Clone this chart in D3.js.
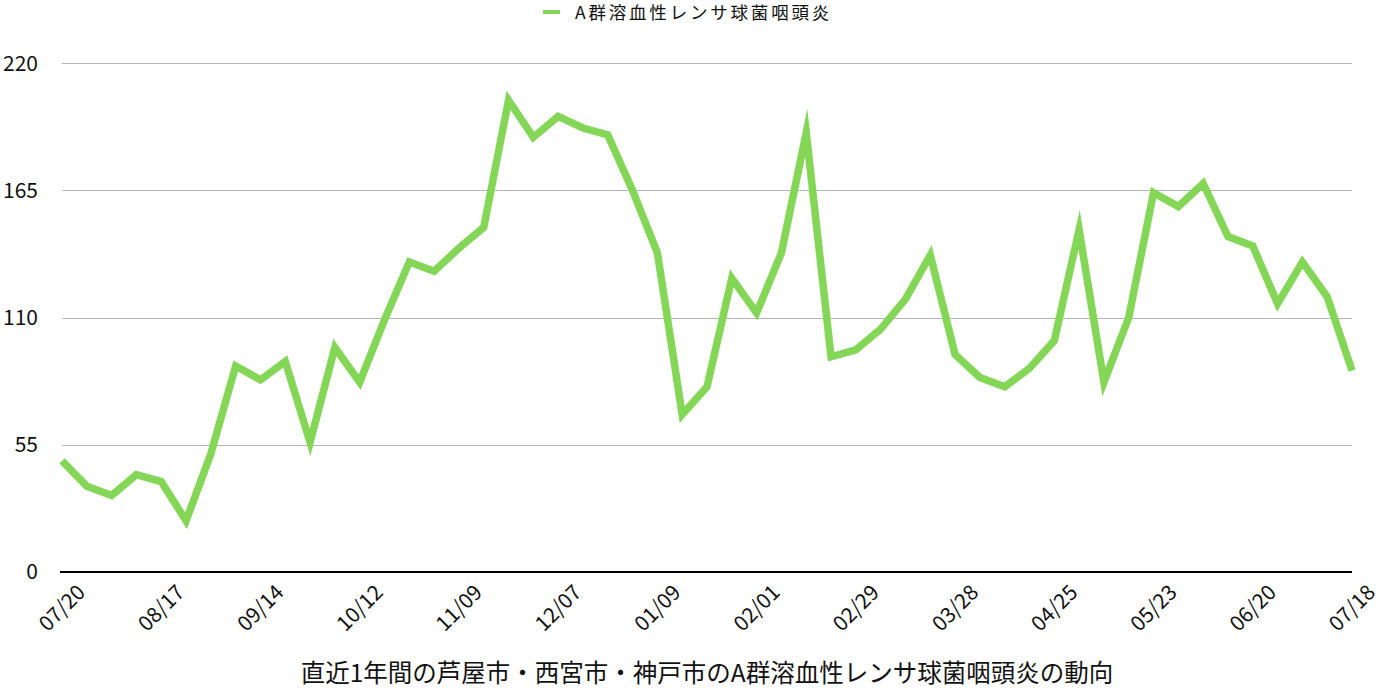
<!DOCTYPE html>
<html><head><meta charset="utf-8">
<script src="https://cdn.jsdelivr.net/npm/d3@7"></script>
<style>
html,body{margin:0;padding:0;background:#fff;}
svg{display:block;font-family:"Noto Sans CJK JP","Noto Sans",sans-serif;}
</style></head>
<body>
<svg id="chart" width="1380" height="696"></svg>
<script>
const tickLabels = ["07/20","08/17","09/14","10/12","11/09","12/07","01/09","02/01","02/29","03/28","04/25","05/23","06/20","07/18"];
const values = [48,37,33,42,39,22,51,89,83,91,56,97,82,109,134,130,140,149,204,188,197,192,189,165,138,68,80,127,112,138,190,93,96,105,118,137,94,84,80,88,100,148,82,110,164,158,168,145,141,116,134,119,87];
const yTicks = [0,55,110,165,220];
const seriesName = "A群溶血性レンサ球菌咽頭炎";
const title = "直近1年間の芦屋市・西宮市・神戸市のA群溶血性レンサ球菌咽頭炎の動向";
const color = "#84d656";

const svg = d3.select("#chart");
const x = d3.scaleLinear().domain([0, values.length - 1]).range([62, 1352]);
const y = d3.scaleLinear().domain([0, 220]).range([571.7, 63.3]);

// gridlines
svg.append("g").selectAll("line").data(yTicks.filter(d => d > 0)).join("line")
  .attr("x1", 62).attr("x2", 1352)
  .attr("y1", d => Math.round(y(d)) + 0.5).attr("y2", d => Math.round(y(d)) + 0.5)
  .attr("stroke", "#b4b4b4").attr("stroke-width", 1);

// y labels
svg.append("g").selectAll("text").data(yTicks).join("text")
  .attr("x", 38).attr("y", d => y(d)).attr("dy", "0.35em")
  .attr("text-anchor", "end").attr("font-size", 21).attr("fill", "#111")
  .text(d => d);

// x axis baseline
svg.append("line").attr("x1", 60).attr("x2", 1352)
  .attr("y1", 572).attr("y2", 572).attr("stroke", "#000").attr("stroke-width", 2);

// x labels
const tickIdx = tickLabels.map((d, i) => ({label: d, i: i * 4}));
svg.append("g").selectAll("text").data(tickIdx).join("text")
  .attr("transform", d => `translate(${x(d.i)},608) rotate(-45)`)
  .attr("text-anchor", "middle").attr("dy", "0.35em")
  .attr("font-size", 21).attr("fill", "#111")
  .text(d => d.label);

// line
const line = d3.line().x((d, i) => x(i)).y(d => y(d));
svg.append("path").datum(values)
  .attr("d", line).attr("fill", "none")
  .attr("stroke", color).attr("stroke-width", 7.5)
  .attr("stroke-linejoin", "miter").attr("stroke-miterlimit", 10);

// legend
svg.append("line").attr("x1", 543).attr("x2", 560).attr("y1", 12).attr("y2", 12)
  .attr("stroke", color).attr("stroke-width", 4);
svg.append("text").attr("x", 575).attr("y", 13).attr("dy", "0.35em")
  .attr("font-size", 17.5).attr("letter-spacing", 2.8).attr("fill", "#111")
  .text(seriesName);

// title
svg.append("text").attr("x", 707).attr("y", 673).attr("dy", "0.35em")
  .attr("text-anchor", "middle").attr("font-size", 24.5).attr("fill", "#111")
  .text(title);
</script>
</body></html>
